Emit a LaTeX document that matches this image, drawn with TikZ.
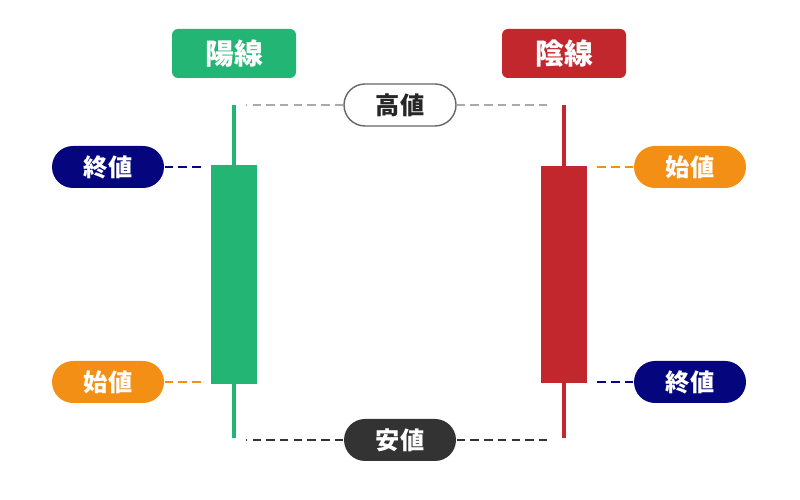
\documentclass[tikz,border=0pt]{standalone}
\usepackage{fontspec}
\newfontfamily\cjk{Noto Sans CJK JP}
\usetikzlibrary{positioning,calc}

\definecolor{yang}{HTML}{23B574}
\definecolor{yin}{HTML}{C1272D}
\definecolor{opn}{HTML}{F38F14}
\definecolor{cls}{HTML}{05057D}
\definecolor{low}{HTML}{333333}
\definecolor{high}{HTML}{AAAAAA}

\tikzset{
	tag/.style={rounded corners=0.06cm,minimum width=1.24cm,minimum height=0.49cm,text=white,inner sep=0pt,font=\cjk\bfseries\fontsize{8.2}{9}\selectfont},
	pill/.style={rounded corners=0.21cm,minimum width=1.12cm,minimum height=0.42cm,text=white,inner sep=0pt},
	body/.style={minimum width=0.46cm,inner sep=0pt},
	wick/.style={line width=1.1pt},
	guide/.style={line width=0.5pt,dash pattern=on 2.4pt off 1.5pt}
}

\begin{document}
\begin{tikzpicture}[every node/.style={font=\cjk\bfseries\fontsize{6.9}{8}\selectfont}]
\useasboundingbox (0,0) rectangle (8,5);

% titles
\node[tag,fill=yang](yangtag) at (2.34,4.465) {陽線};
\node[tag,fill=yin](yintag) at (5.64,4.465) {陰線};

% wicks
\coordinate (gtop) at (2.34,3.95);
\coordinate (gbot) at (2.34,0.62);
\coordinate (rtop) at (5.64,3.95);
\coordinate (rbot) at (5.64,0.62);
\draw[wick,yang](gtop)--(gbot);
\draw[wick,yin](rtop)--(rbot);

% bodies
\node[body,fill=yang,minimum height=2.19cm](gbody) at (2.34,2.255) {};
\node[body,fill=yin,minimum height=2.17cm](rbody) at (5.64,2.255) {};

% high / low
\node[pill,draw=black!60,line width=0.4pt,fill=white,text=black!85](hi) at (4,3.95) {高値};
\node[pill,fill=low](lo) at (4,0.6) {安値};

% open / close
\node[pill,fill=cls](lcl) at (1.08,3.33) {終値};
\node[pill,fill=opn](lop) at (1.08,1.18) {始値};
\node[pill,fill=opn](rop) at (6.90,3.33) {始値};
\node[pill,fill=cls](rcl) at (6.90,1.18) {終値};

\foreach \a/\b/\c in {hi/gtop/high,hi/rtop/high,lo/gbot/low,lo/rbot/low}
	\draw[guide,\c,shorten >=0.12cm](\a)--(\a-|\b);

\foreach \a/\b/\c in {lcl/gbody/cls,lop/gbody/opn}
	\draw[guide,\c,shorten >=0.06cm](\a.east)--(\a-|\b.west);
\foreach \a/\b/\c in {rop/rbody/opn,rcl/rbody/cls}
	\draw[guide,\c,shorten >=0.08cm](\a.west)--(\a-|\b.east);

\end{tikzpicture}
\end{document}
